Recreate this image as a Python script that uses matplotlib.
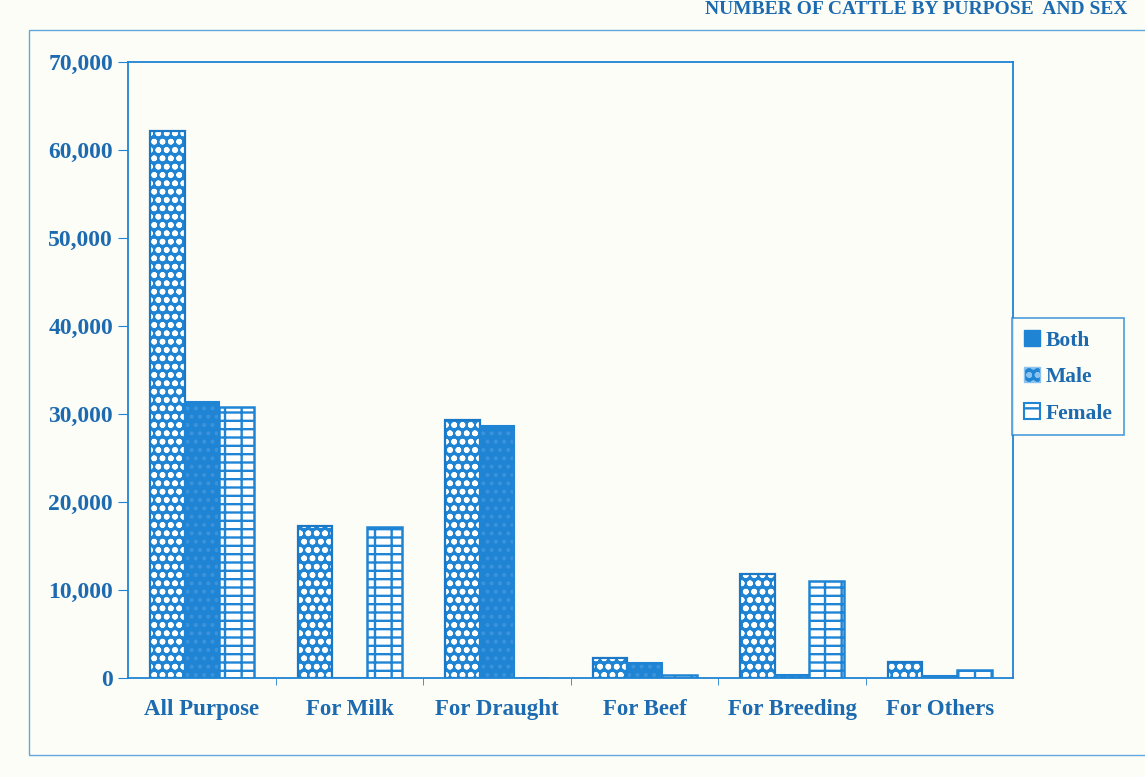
import matplotlib
matplotlib.use("Agg")
import matplotlib.pyplot as plt
import numpy as np
from matplotlib.patches import Rectangle, Patch
from matplotlib.ticker import FuncFormatter, FixedLocator

# Cattle numbers by purpose and sex
categories = ["All Purpose", "For Milk", "For Draught", "For Beef", "For Breeding", "For Others"]
both = [62200, 17300, 29300, 2300, 11900, 1800]
male = [31400, 0, 28700, 1700, 400, 300]
female = [30800, 17200, 0, 400, 11100, 1000]
series_names = ["Both", "Male", "Female"]
y_ticks = [0, 10000, 20000, 30000, 40000, 50000, 60000, 70000]

BLUE = "#1f84d4"
TEXT = "#1c6ab0"
PAPER = "#fdfdf7"

plt.rcParams["hatch.linewidth"] = 1.7

fig = plt.figure(figsize=(11.45, 7.77), dpi=100, facecolor=PAPER)
ax = fig.add_axes([0.112, 0.127, 0.773, 0.793])
ax.set_facecolor(PAPER)

x = np.arange(len(categories))
w = 0.235

# Both: blue with white dot pattern
ax.bar(x - w, both, w, color=BLUE, edgecolor="white", hatch="oo", linewidth=0)
ax.bar(x - w, both, w, fill=False, edgecolor="#1a78c6", linewidth=1.6)
# Male: solid speckled blue
ax.bar(x, male, w, color=BLUE, edgecolor="#3b93dc", hatch="..", linewidth=0)
ax.bar(x, male, w, fill=False, edgecolor=BLUE, linewidth=1.5)
# Female: white with brick-like grid
ax.bar(x + w, female, w, color="white", edgecolor=BLUE, hatch="--|", linewidth=0)
ax.bar(x + w, female, w, fill=False, edgecolor=BLUE, linewidth=1.8)

ax.set_xlim(-0.5, len(categories) - 0.5)
ax.set_ylim(0, 70000)
ax.set_yticks(y_ticks)
ax.yaxis.set_major_formatter(FuncFormatter(lambda v, p: f"{int(v):,}"))
ax.set_xticks(x)
ax.set_xticklabels(categories)
ax.xaxis.set_minor_locator(FixedLocator(np.arange(0.5, len(categories) - 0.5, 1.0)))
ax.tick_params(axis="x", which="major", length=0, pad=15)
ax.tick_params(axis="x", which="minor", length=5, color=BLUE, direction="out")
ax.tick_params(axis="y", length=7, color=BLUE, direction="out", pad=4)

for lab in ax.get_xticklabels():
    lab.set_fontfamily("Liberation Serif")
    lab.set_fontweight("bold")
    lab.set_fontsize(16.5)
    lab.set_color(TEXT)
for lab in ax.get_yticklabels():
    lab.set_fontfamily("Liberation Serif")
    lab.set_fontweight("bold")
    lab.set_fontsize(17)
    lab.set_color(TEXT)

for s in ax.spines.values():
    s.set_color(BLUE)
    s.set_linewidth(1.3)

handles = [
    Patch(facecolor=BLUE, edgecolor=BLUE, label=series_names[0]),
    Patch(facecolor=BLUE, edgecolor="#8cc3ee", hatch="oo", label=series_names[1]),
    Patch(facecolor="white", edgecolor=BLUE, hatch="-", linewidth=1.5, label=series_names[2]),
]
leg = fig.legend(handles=handles, loc="center", bbox_to_anchor=(0.933, 0.515),
                 frameon=True, fancybox=False, handlelength=0.75, handleheight=0.75,
                 handletextpad=0.25, labelspacing=0.75, borderpad=0.55, borderaxespad=0,
                 prop={"family": "Liberation Serif", "weight": "bold", "size": 15.5})
leg.get_frame().set_edgecolor(BLUE)
leg.get_frame().set_linewidth(1.2)
leg.get_frame().set_facecolor(PAPER)
for t in leg.get_texts():
    t.set_color(TEXT)

# Chart area border
fig.patches.append(Rectangle((0.025, 0.028), 1.0, 0.933, transform=fig.transFigure,
                             fill=False, edgecolor="#5fa8e0", linewidth=1.0))

# Title along the top edge
fig.text(0.985, 0.999, "NUMBER OF CATTLE BY PURPOSE  AND SEX", ha="right", va="top",
         fontfamily="Liberation Serif", fontweight="bold", fontsize=14, color=TEXT)

fig.savefig("out.png", dpi=100, facecolor=PAPER)
